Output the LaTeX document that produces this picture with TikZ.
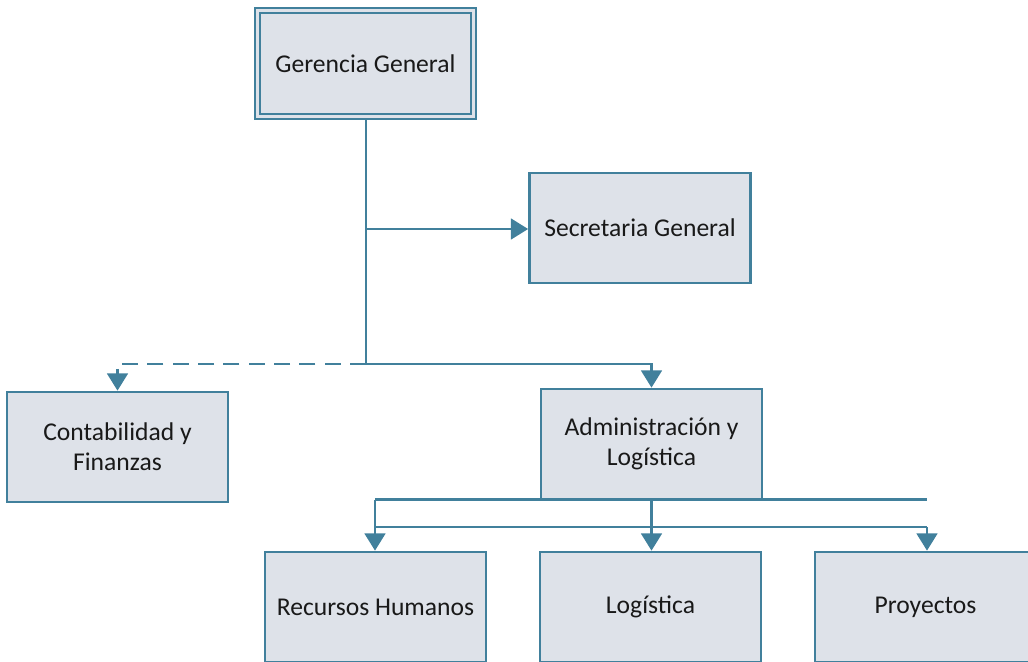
\documentclass[tikz,border=0pt]{standalone}
\usepackage{fontspec}
\setmainfont{Carlito}
\usetikzlibrary{arrows.meta,calc}
\definecolor{teal1}{HTML}{41809C}
\definecolor{boxfill}{HTML}{DEE2E9}
\begin{document}
\begin{tikzpicture}[x=0.75pt,y=-0.75pt,
  box/.style={draw=teal1,fill=boxfill,line width=2pt,minimum width=165.75pt,minimum height=82.5pt,
    align=center,inner sep=0pt,font=\fontsize{19.2}{22.5}\selectfont,text=black!90},
  conn/.style={draw=teal1,line width=2.2pt},
  arr/.style={conn,-{Triangle[width=15.5pt,length=13pt]}},
  dsh/.style={dash pattern=on 12pt off 7pt}]
\useasboundingbox (0,0) rectangle (1028,661);
\node[box,minimum height=83.25pt,line width=1.5pt] (g) at (365.5,63.5) {Gerencia General};
\draw[draw=teal1,line width=2.2pt] ([shift={(6,6)}]g.north west) rectangle ([shift={(-6,-6)}]g.south east);
\node[box] (sec) at (640,228) {Secretaria General};
\node[box] (cont) at (117.5,447) {Contabilidad y\\Finanzas};
\node[box] (adm) at (651.5,444) {Administración y\\Logística};
\node[box] (rh) at (375.5,607) {Recursos Humanos};
\node[box] (lg) at (650.5,607) {Logística};
\node[box] (pr) at (925.5,607) {Proyectos};
\coordinate (j1) at (366,364);
\coordinate (j0) at (366,229);
\draw[conn] (g.south -| j1) -- (j1);
\draw[arr] (j0) -- (j0 -| sec.west);
\draw[arr,dsh] (j1) -| (cont.north);
\draw[arr] (j1) -| (adm.north);
\coordinate (b1) at (375,499.5);
\coordinate (b2) at (927,499.5);
\coordinate (c1) at (375,527);
\coordinate (c2) at (927,527);
\draw[conn] (b1) -- (b2);
\draw[conn] (c1) -- (c2);
\draw[arr] (b1) -- (rh.north -| b1);
\draw[arr] (adm.south) -- (lg.north -| adm.south);
\draw[arr] (c2) -- (pr.north -| c2);
\end{tikzpicture}
\end{document}
